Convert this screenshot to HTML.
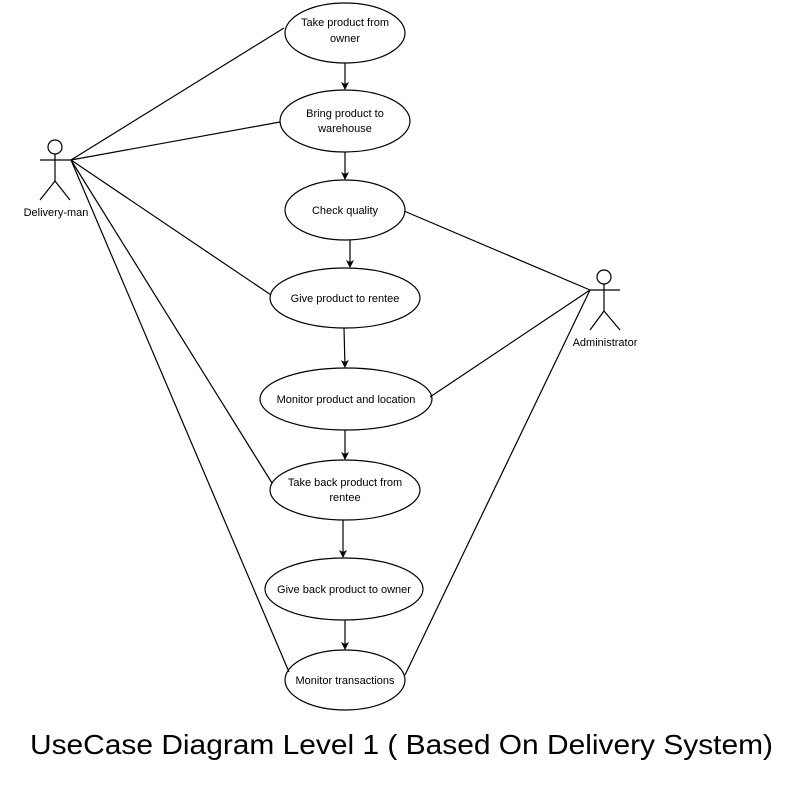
<!DOCTYPE html>
<html><head><style>body{margin:0;background:#fff}</style></head><body>
<svg width="802" height="784" xmlns="http://www.w3.org/2000/svg" font-family="Liberation Sans, Arial, sans-serif">
<defs><marker id="a" markerWidth="8" markerHeight="8" refX="7" refY="4" orient="auto" markerUnits="userSpaceOnUse"><path d="M0,0 L8,4 L0,8 L2,4 z" fill="#000"/></marker></defs>
<g stroke="#000" stroke-width="1.2" fill="none">
<ellipse cx="345" cy="33" rx="60" ry="30" fill="#fff"/>
<ellipse cx="345" cy="121" rx="65" ry="31" fill="#fff"/>
<ellipse cx="345" cy="210" rx="60" ry="30" fill="#fff"/>
<ellipse cx="345" cy="298" rx="75" ry="30" fill="#fff"/>
<ellipse cx="346" cy="399" rx="86" ry="31" fill="#fff"/>
<ellipse cx="345" cy="490" rx="75" ry="30" fill="#fff"/>
<ellipse cx="344" cy="589" rx="79" ry="31" fill="#fff"/>
<ellipse cx="345" cy="680" rx="60" ry="30" fill="#fff"/>
<line x1="345" y1="63" x2="345" y2="89" marker-end="url(#a)"/>
<line x1="345" y1="152" x2="345" y2="179" marker-end="url(#a)"/>
<line x1="350" y1="240" x2="350" y2="267" marker-end="url(#a)"/>
<line x1="344" y1="328" x2="345" y2="367" marker-end="url(#a)"/>
<line x1="345" y1="430" x2="345" y2="459" marker-end="url(#a)"/>
<line x1="343" y1="520" x2="343" y2="557" marker-end="url(#a)"/>
<line x1="345" y1="620" x2="345" y2="649" marker-end="url(#a)"/>
<line x1="71" y1="160" x2="284" y2="28"/>
<line x1="71" y1="160" x2="280" y2="122"/>
<line x1="71" y1="160" x2="271" y2="295"/>
<line x1="71" y1="160" x2="272" y2="483"/>
<line x1="71" y1="160" x2="289" y2="672"/>
<line x1="590" y1="290" x2="404" y2="211"/>
<line x1="590" y1="290" x2="430" y2="397"/>
<line x1="590" y1="290" x2="405" y2="675"/>
<circle cx="55" cy="147" r="7" fill="#fff"/>
<line x1="55" y1="154" x2="55" y2="181"/><line x1="40" y1="160" x2="71" y2="160"/>
<line x1="55" y1="181" x2="40" y2="200"/><line x1="55" y1="181" x2="70" y2="200"/>
<circle cx="604" cy="277" r="7" fill="#fff"/>
<line x1="604" y1="284" x2="604" y2="311"/><line x1="590" y1="290" x2="620" y2="290"/>
<line x1="604" y1="311" x2="590" y2="330"/><line x1="604" y1="311" x2="620" y2="330"/>
</g>
<g font-size="11" text-anchor="middle" fill="#000">
<text x="345" y="26">Take product from</text><text x="345" y="42">owner</text>
<text x="345" y="117">Bring product to</text><text x="345" y="132">warehouse</text>
<text x="345" y="214">Check quality</text>
<text x="345" y="302">Give product to rentee</text>
<text x="346" y="403">Monitor product and location</text>
<text x="345" y="486">Take back product from</text><text x="345" y="501">rentee</text>
<text x="344" y="593">Give back product to owner</text>
<text x="345" y="684">Monitor transactions</text>
<text x="56" y="216">Delivery-man</text>
<text x="605" y="346">Administrator</text>
</g>
<text x="30" y="754" font-size="28" textLength="743" lengthAdjust="spacingAndGlyphs">UseCase Diagram Level 1 ( Based On Delivery System)</text>
</svg>
</body></html>
